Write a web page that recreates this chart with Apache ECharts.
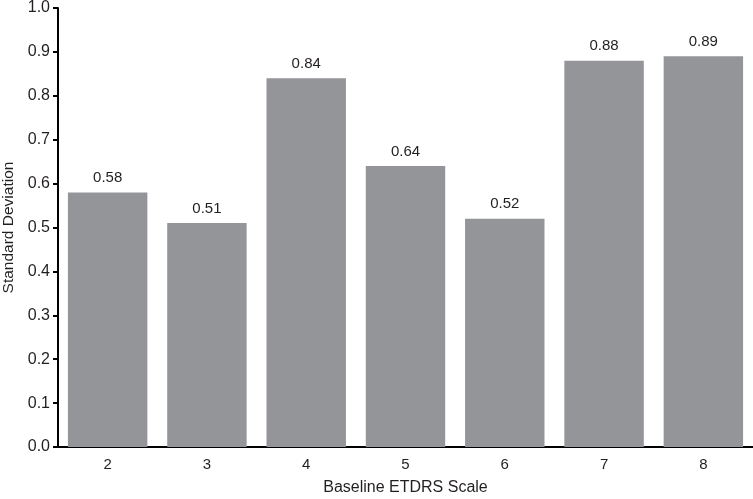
<!DOCTYPE html>
<html>
<head>
<meta charset="utf-8">
<script src="https://cdn.jsdelivr.net/npm/echarts@6/dist/echarts.min.js"></script>
<style>
    html, body { margin: 0; padding: 0; background: #fff; }
    #chart { width: 753px; height: 499px; }
</style>
</head>
<body>
<div id="chart"></div>
<script>
// data
var categories = ['2', '3', '4', '5', '6', '7', '8'];
var stdValues = [0.58, 0.51, 0.84, 0.64, 0.52, 0.88, 0.89];
var yTicks = ['0.0', '0.1', '0.2', '0.3', '0.4', '0.5', '0.6', '0.7', '0.8', '0.9', '1.0'];

var myChart = echarts.init(document.getElementById('chart'));

var textColor = '#231f20';
var font = 'Liberation Sans';

var option = {
    animation: false,
    grid: {
        left: 58,
        right: 0,
        top: 8,
        bottom: 52,
        containLabel: false,
        outerBoundsMode: 'none'
    },
    xAxis: {
        type: 'category',
        data: categories,
        name: 'Baseline ETDRS Scale',
        nameLocation: 'middle',
        nameGap: 33,
        nameTextStyle: { fontFamily: font, fontSize: 16, color: textColor },
        axisLine: { lineStyle: { color: '#000', width: 2 } },
        axisTick: { show: false },
        axisLabel: { fontFamily: font, fontSize: 15, color: textColor, margin: 10 }
    },
    yAxis: {
        type: 'value',
        min: 0,
        max: 1,
        interval: 0.1,
        name: 'Standard Deviation',
        nameLocation: 'middle',
        nameGap: 38,
        nameTextStyle: { fontFamily: font, fontSize: 15.5, color: textColor },
        axisLine: { show: true, lineStyle: { color: '#000', width: 2 } },
        axisTick: { show: true, length: 5, lineStyle: { color: '#000', width: 2 } },
        splitLine: { show: false },
        axisLabel: {
            fontFamily: font, fontSize: 16, color: textColor, margin: 8,
            formatter: function (v) { return yTicks[Math.round(v * 10)]; }
        }
    },
    series: [
        {
            type: 'bar',
            data: stdValues,
            barWidth: '80%',
            itemStyle: { color: '#939598' },
            label: {
                show: true,
                position: 'top',
                distance: 7,
                fontFamily: font,
                fontSize: 15,
                color: textColor,
                formatter: function (p) { return p.value.toFixed(2); }
            }
        }
    ]
};
option && myChart.setOption(option);
</script>
</body>
</html>
